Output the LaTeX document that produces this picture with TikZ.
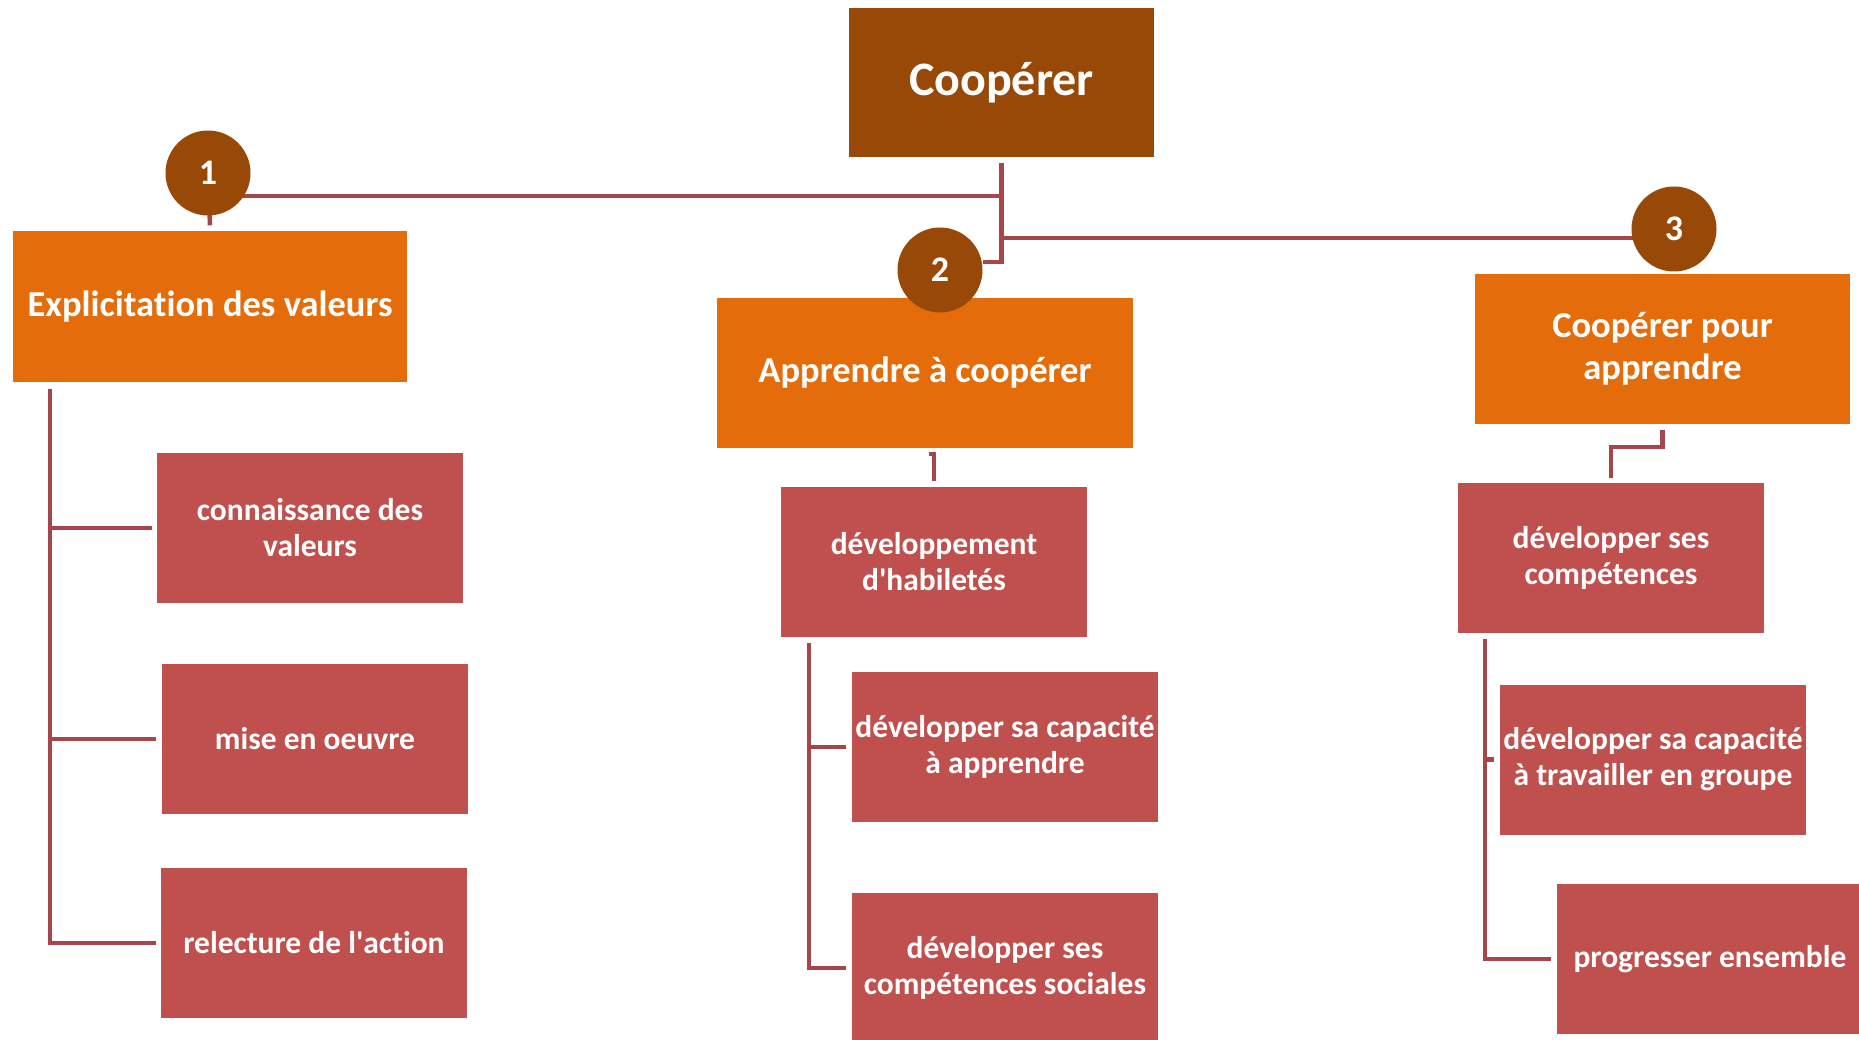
\documentclass[tikz,border=0pt]{standalone}
\usepackage{fontspec}
\setmainfont{Carlito}[Ligatures={NoCommon}]
\pgfdeclarelayer{bg}
\pgfsetlayers{bg,main}
\definecolor{brownc}{HTML}{984807}
\definecolor{orangec}{HTML}{E46C0A}
\definecolor{redc}{HTML}{C0504D}
\definecolor{linec}{HTML}{A5474A}
\begin{document}
\begin{tikzpicture}[x=1pt,y=-1pt,
 box/.style={rectangle, inner sep=0pt, align=center, text=white},
 topbox/.style={box, fill=brownc, minimum width=305pt, minimum height=149pt, font=\bfseries\fontsize{48}{58}\selectfont},
 midbox/.style={box, fill=orangec, minimum height=150pt, font=\bfseries\fontsize{36.5}{41.5}\selectfont},
 subbox/.style={box, fill=redc, minimum width=306pt, minimum height=150pt, font=\bfseries\fontsize{31.5}{36}\selectfont},
 badge/.style={circle, fill=brownc, minimum size=85pt, inner sep=0pt, text=white, font=\bfseries\fontsize{36}{40}\selectfont},
 conn/.style={draw=linec, line width=4.5pt}]
\useasboundingbox (0,0) rectangle (1859,1040);

% main boxes
\node[topbox] (coop) at (1001.5,82.5) {Coopérer};
\node[midbox, minimum width=394pt] (expl) at (210,306.5) {Explicitation des valeurs};
\node[midbox, minimum width=416pt] (appr) at (925,373) {Apprendre à coopérer};
\node[midbox, minimum width=375pt] (cpa) at (1662.5,349) {Coopérer pour\\apprendre};

% sub boxes
\node[subbox] (conn) at (310,528) {connaissance des\\valeurs};
\node[subbox] (mise) at (315,739) {mise en oeuvre};
\node[subbox] (rel) at (314,943) {relecture de l\textquotesingle action};
\node[subbox] (dev) at (934,562) {développement\\d\textquotesingle habiletés};
\node[subbox] (capa) at (1005,747) {développer sa capacité\\à apprendre};
\node[subbox] (soc) at (1005,968) {développer ses\\compétences sociales};
\node[subbox] (devc) at (1611,558) {développer ses\\compétences};
\node[subbox] (trav) at (1653,759.5) {développer sa capacité\\à travailler en groupe};
\node[subbox] (prog) at (1710,959) {progresser ensemble};

% badges
\node[badge] (c1) at (208,173) {1};
\node[badge] (c2) at (940,270) {2};
\node[badge] (c3) at (1674,229) {3};

\coordinate (tTop) at ([yshift=-6pt]coop.south);
\coordinate (j1) at (1002,196);
\coordinate (j3) at (1002,238);

\begin{pgfonlayer}{bg}
\draw[conn] (tTop) |- ([yshift=8pt]c2.east);
\draw[conn] (j1) -- (c1.center |- j1);
\draw[conn] (j3) -- (c3.center |- j3);
\draw[conn] (c1.center) -- ([yshift=6pt]expl.north);
\end{pgfonlayer}

% second-level links
\draw[conn] ([xshift=-5pt,yshift=-6pt]appr.south -| dev.north) -- ++(5,0) -- ([yshift=6pt]dev.north);
\draw[conn] ([yshift=-6pt]cpa.south) -- ++(0,17) -| ([yshift=5pt]devc.north);

% left trunk
\coordinate (lt) at ([xshift=37pt,yshift=-7pt]expl.south west);
\draw[conn] (lt) |- ([xshift=-5pt]rel.west);
\draw[conn] (lt |- conn.west) -- ([xshift=-5pt]conn.west);
\draw[conn] (lt |- mise.west) -- ([xshift=-6pt]mise.west);

% middle trunk
\coordinate (mt) at ([xshift=28pt,yshift=-6pt]dev.south west);
\draw[conn] (mt) |- ([xshift=-6pt]soc.west);
\draw[conn] (mt |- capa.west) -- ([xshift=-6pt]capa.west);

% right trunk
\coordinate (rt) at ([xshift=27pt,yshift=-6pt]devc.south west);
\draw[conn] (rt) |- ([xshift=-6pt]prog.west);
\draw[conn] (rt |- trav.west) -- ([xshift=-6pt]trav.west);
\end{tikzpicture}
\end{document}
